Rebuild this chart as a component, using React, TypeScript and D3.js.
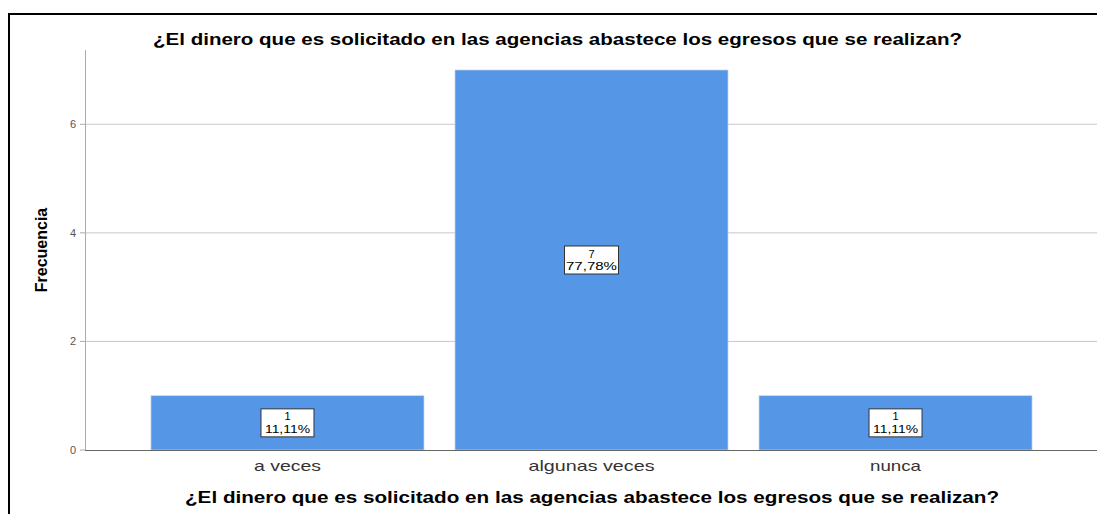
import React from "react";
import * as d3 from "d3";

const categories = ["a veces", "algunas veces", "nunca"];
const counts = [1, 7, 1];
const percents = ["11,11%", "77,78%", "11,11%"];
const yTicks = [0, 2, 4, 6];
const title = "¿El dinero que es solicitado en las agencias abastece los egresos que se realizan?";
const yTitle = "Frecuencia";

export default function App() {
  const W = 1097, H = 514;
  const x = d3.scaleBand<string>().domain(categories).range([85, 1098]).paddingInner(0.102).paddingOuter(0.217);
  const y = d3.scaleLinear().domain([0, 7]).range([450, 70]);
  const font = "Arial, 'Liberation Sans', sans-serif";
  return (
    <svg width={W} height={H} style={{ position: "absolute", left: 0, top: 0, display: "block" }}>
      <rect x={0} y={0} width={W} height={H} fill="#fff" />
      <line x1={8} y1={14} x2={W} y2={14} stroke="#000" strokeWidth={2} />
      <line x1={9} y1={13} x2={9} y2={H} stroke="#000" strokeWidth={2} />
      <text x={557.5} y={45} textAnchor="middle" fontFamily={font} fontWeight="bold" fontSize={16} fill="#000" textLength={809} lengthAdjust="spacingAndGlyphs">{title}</text>
      {yTicks.filter(t => t > 0).map(t => (
        <line key={"g" + t} x1={85} x2={W} y1={y(t)} y2={y(t)} stroke="#c8c8c8" strokeWidth={1} />
      ))}
      <line x1={85.5} x2={85.5} y1={50} y2={450} stroke="#aaa" strokeWidth={1} />
      {yTicks.map(t => (
        <g key={"t" + t}>
          <line x1={80} x2={85} y1={y(t)} y2={y(t)} stroke="#aaa" />
          <text x={76} y={y(t) + 4} textAnchor="end" fontFamily={font} fontSize={11} fill="#555">{t}</text>
        </g>
      ))}
      <text transform={`translate(47,250) rotate(-90)`} textAnchor="middle" fontFamily="'Liberation Sans Narrow', 'Arial Narrow', Arial, sans-serif" fontWeight="bold" fontSize={16} fill="#000">{yTitle}</text>
      {categories.map((c, i) => {
        const bx = x(c)!;
        const bw = x.bandwidth();
        const cx = bx + bw / 2;
        const cy = (y(counts[i]) + y(0)) / 2;
        const boxW = counts[i] > 1 ? 54 : 53;
        return (
          <g key={c}>
            <rect x={bx} y={y(counts[i])} width={bw} height={y(0) - y(counts[i])} fill="#5596e6" stroke="#bcd6f5" strokeWidth={0.7} />
            <rect x={cx - boxW / 2} y={cy - 14} width={boxW} height={28} fill="#fff" stroke="#333" strokeWidth={1} />
            <text x={cx} y={cy - 2.5} textAnchor="middle" fontFamily={font} fontSize={11} fill="#000">{counts[i]}</text>
            <text x={cx} y={cy + 10} textAnchor="middle" fontFamily={font} fontSize={11.5} fill="#000" textLength={counts[i] > 1 ? 51 : 45} lengthAdjust="spacingAndGlyphs">{percents[i]}</text>
            <text x={cx} y={471} textAnchor="middle" fontFamily={font} fontSize={15} fill="#333" textLength={i === 1 ? 126 : i === 0 ? 67 : 51} lengthAdjust="spacingAndGlyphs">{c}</text>
          </g>
        );
      })}
      <line x1={85} x2={W} y1={450.5} y2={450.5} stroke="#666" strokeWidth={1} />
      <text x={592} y={503} textAnchor="middle" fontFamily={font} fontWeight="bold" fontSize={16} fill="#000" textLength={814} lengthAdjust="spacingAndGlyphs">{title}</text>
    </svg>
  );
}
